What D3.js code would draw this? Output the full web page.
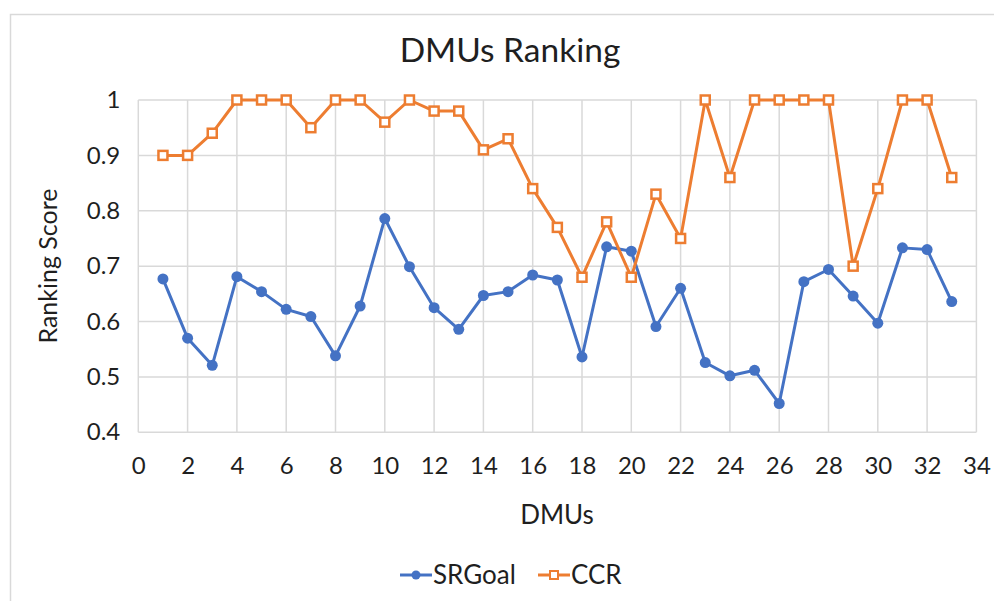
<!DOCTYPE html>
<html>
<head>
<meta charset="utf-8">
<script src="https://cdn.jsdelivr.net/npm/d3@7"></script>
<style>
  html, body { margin: 0; padding: 0; background: #fff; }
  svg { display: block; }
  text { font-family: Lato, "Open Sans", sans-serif; fill: #1f1f1f; }
</style>
</head>
<body>
<svg id="chart" width="994" height="601"></svg>
<script>
const dmus = d3.range(1, 34);
const srgoal = [0.677, 0.570, 0.521, 0.681, 0.654, 0.622, 0.609, 0.538, 0.628, 0.786,
                0.699, 0.625, 0.586, 0.647, 0.654, 0.684, 0.675, 0.536, 0.735, 0.727,
                0.591, 0.660, 0.526, 0.502, 0.512, 0.452, 0.672, 0.694, 0.646, 0.597,
                0.733, 0.730, 0.636];
const ccr = [0.90, 0.90, 0.94, 1.00, 1.00, 1.00, 0.95, 1.00, 1.00, 0.96,
             1.00, 0.98, 0.98, 0.91, 0.93, 0.84, 0.77, 0.68, 0.78, 0.68,
             0.83, 0.75, 1.00, 0.86, 1.00, 1.00, 1.00, 1.00, 0.70, 0.84,
             1.00, 1.00, 0.86];
const xTicks = d3.range(0, 35, 2);
const yTicks = [0.4, 0.5, 0.6, 0.7, 0.8, 0.9, 1];
const seriesNames = ["SRGoal", "CCR"];
const colors = ["#4472C4", "#ED7D31"];

const svg = d3.select("#chart");
const pLeft = 138.3, pRight = 976.4, pTop = 100, pBottom = 432.3;

// outer frame
svg.append("rect").attr("x", 10.5).attr("y", 14.5).attr("width", 1000).attr("height", 700)
  .attr("fill", "#fff").attr("stroke", "#d9d9d9").attr("stroke-width", 1.5);

const x = d3.scaleLinear().domain([0, 34]).range([pLeft, pRight]);
const y = d3.scaleLinear().domain([0.4, 1]).range([pBottom, pTop]);

// gridlines
svg.append("g").selectAll("line").data(yTicks).join("line")
  .attr("x1", pLeft).attr("x2", pRight).attr("y1", d => y(d)).attr("y2", d => y(d))
  .attr("stroke", "#d9d9d9").attr("stroke-width", 1.5);
svg.append("g").selectAll("line").data(xTicks).join("line")
  .attr("y1", pTop).attr("y2", pBottom).attr("x1", d => x(d)).attr("x2", d => x(d))
  .attr("stroke", "#d9d9d9").attr("stroke-width", 1.5);

// axes (labels only)
const xAxis = svg.append("g").attr("transform", `translate(0,${pBottom})`)
  .call(d3.axisBottom(x).tickValues(xTicks).tickSize(0).tickPadding(25).tickFormat(d3.format("d")));
xAxis.select(".domain").remove();
xAxis.selectAll("text").attr("font-size", 24).attr("font-family", "Lato").attr("fill", "#1f1f1f");

const yAxis = svg.append("g").attr("transform", `translate(${pLeft},0)`)
  .call(d3.axisLeft(y).tickValues(yTicks).tickSize(0).tickPadding(18).tickFormat(d => String(+d.toFixed(1))));
yAxis.select(".domain").remove();
yAxis.selectAll("text").attr("font-size", 24).attr("font-family", "Lato").attr("fill", "#1f1f1f");

// titles
svg.append("text").attr("x", 510).attr("y", 62).attr("text-anchor", "middle")
  .attr("font-size", 33.5).text("DMUs Ranking");
svg.append("text").attr("x", 557).attr("y", 524).attr("text-anchor", "middle")
  .attr("font-size", 26).text("DMUs");
svg.append("text").attr("transform", "translate(57,266) rotate(-90)").attr("text-anchor", "middle")
  .attr("font-size", 25).text("Ranking Score");

// lines
const line = d3.line().x((d, i) => x(dmus[i])).y(d => y(d));
[srgoal, ccr].forEach((s, k) => {
  svg.append("path").datum(s).attr("d", line).attr("fill", "none")
    .attr("stroke", colors[k]).attr("stroke-width", 3).attr("stroke-linejoin", "round");
});
svg.append("g").selectAll("circle").data(srgoal).join("circle")
  .attr("cx", (d, i) => x(dmus[i])).attr("cy", d => y(d)).attr("r", 5.5).attr("fill", colors[0]);
svg.append("g").selectAll("rect").data(ccr).join("rect")
  .attr("x", (d, i) => x(dmus[i]) - 4.5).attr("y", d => y(d) - 4.5).attr("width", 9).attr("height", 9)
  .attr("fill", "#fff").attr("stroke", colors[1]).attr("stroke-width", 2.5);

// legend
const lg = svg.append("g").attr("transform", "translate(0,575)");
lg.append("line").attr("x1", 400).attr("x2", 432).attr("y1", 0).attr("y2", 0).attr("stroke", colors[0]).attr("stroke-width", 3);
lg.append("circle").attr("cx", 416).attr("cy", 0).attr("r", 4.5).attr("fill", colors[0]);
lg.append("text").attr("x", 433).attr("y", 0).attr("dy", "0.35em").attr("font-size", 26).text(seriesNames[0]);
lg.append("line").attr("x1", 538).attr("x2", 570).attr("y1", 0).attr("y2", 0).attr("stroke", colors[1]).attr("stroke-width", 3);
lg.append("rect").attr("x", 550).attr("y", -4).attr("width", 8).attr("height", 8).attr("fill", "#fff").attr("stroke", colors[1]).attr("stroke-width", 2);
lg.append("text").attr("x", 571).attr("y", 0).attr("dy", "0.35em").attr("font-size", 26).text(seriesNames[1]);
</script>
</body>
</html>
